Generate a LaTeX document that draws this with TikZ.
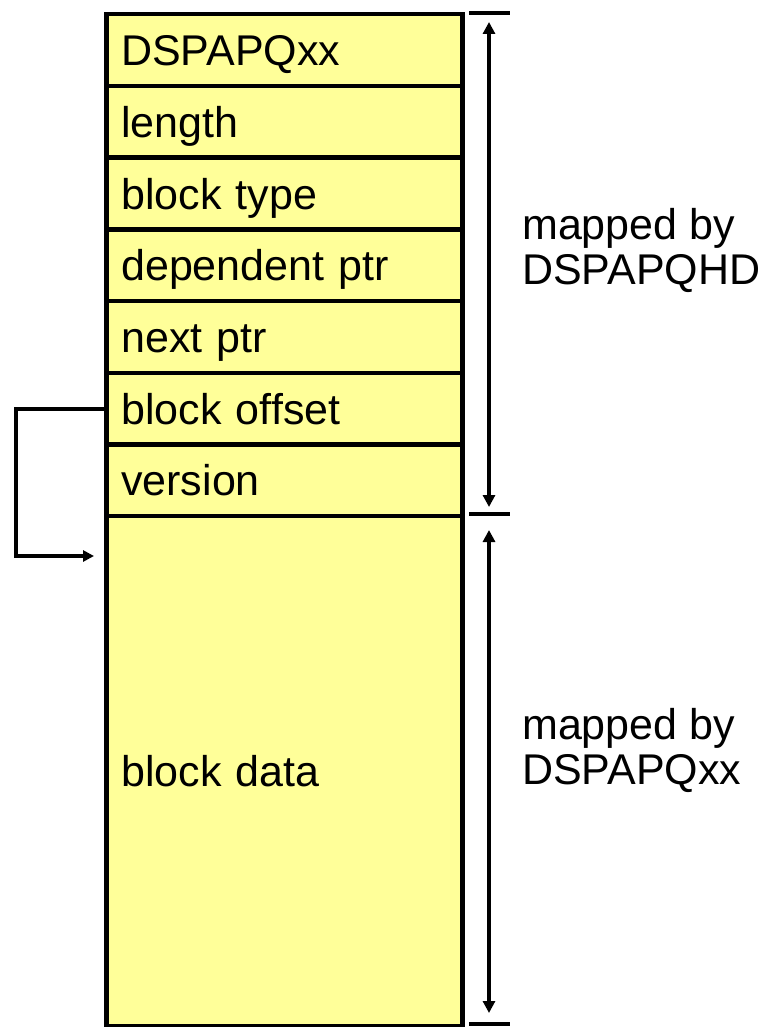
\documentclass[tikz,border=0pt]{standalone}
\usepackage{fontspec}
\setmainfont{Liberation Sans}
\usetikzlibrary{arrows.meta}
\definecolor{rowfill}{RGB}{255,255,153}
\begin{document}
\begin{tikzpicture}[x=1pt,y=-1pt,
  field/.style={draw=black, line width=4.5pt, fill=rowfill, anchor=north west,
    minimum width=356pt, inner xsep=15pt, inner ysep=0pt,
    text width=326pt, align=left, text height=36pt, text depth=5pt,
    font=\fontsize{43}{46}\selectfont},
  tick/.style={line width=4.5pt},
  span/.style={line width=4pt, {Triangle[length=12pt,width=12pt]}-{Triangle[length=12pt,width=12pt]}},
  link/.style={line width=4pt, -{Triangle[length=11pt,width=11pt]}},
  note/.style={anchor=base west, inner sep=0pt, font=\fontsize{43}{46}\selectfont}]
\useasboundingbox (0,0) rectangle (762,1027);
% header fields
\node[field, minimum height=71.7pt] (f1) at (104,12) {DSPAPQxx};
\node[field, minimum height=71.7pt] (f2) at (104,83.7) {length};
\node[field, minimum height=71.7pt] (f3) at (104,155.4) {block type};
\node[field, minimum height=71.7pt] (f4) at (104,227.1) {dependent ptr};
\node[field, minimum height=71.7pt] (f5) at (104,298.8) {next ptr};
\node[field, minimum height=71.7pt] (f6) at (104,370.5) {block offset};
\node[field, minimum height=71.7pt] (f7) at (104,442.2) {version};
% data area
\node[field, minimum height=510.1pt] (f8) at (104,513.9) {block data};
% range markers
\coordinate (t1) at (489,13);
\coordinate (t2) at (489,514);
\coordinate (t3) at (489,1024);
\draw[tick] ([xshift=-20pt]t1) -- ([xshift=21pt]t1);
\draw[tick] ([xshift=-20pt]t2) -- ([xshift=21pt]t2);
\draw[tick] ([xshift=-20pt]t3) -- ([xshift=21pt]t3);
\coordinate (a1) at (489,22);
\coordinate (a2) at (489,507);
\coordinate (a3) at (489,530);
\coordinate (a4) at (489,1013);
\draw[span] (a1) -- (a2);
\draw[span] (a3) -- (a4);
\node[note] (n1) at (522,239) {mapped by};
\node[note] (n2) at (522,284) {DSPAPQHD};
\node[note] (n3) at (522,739) {mapped by};
\node[note] (n4) at (522,784) {DSPAPQxx};
% offset pointer
\coordinate (c1) at (16,409);
\coordinate (c2) at (16,556);
\coordinate (c3) at (94,556);
\draw[link] (f6.west |- c1) -- (c1) -- (c2) -- (c3);
\end{tikzpicture}
\end{document}
